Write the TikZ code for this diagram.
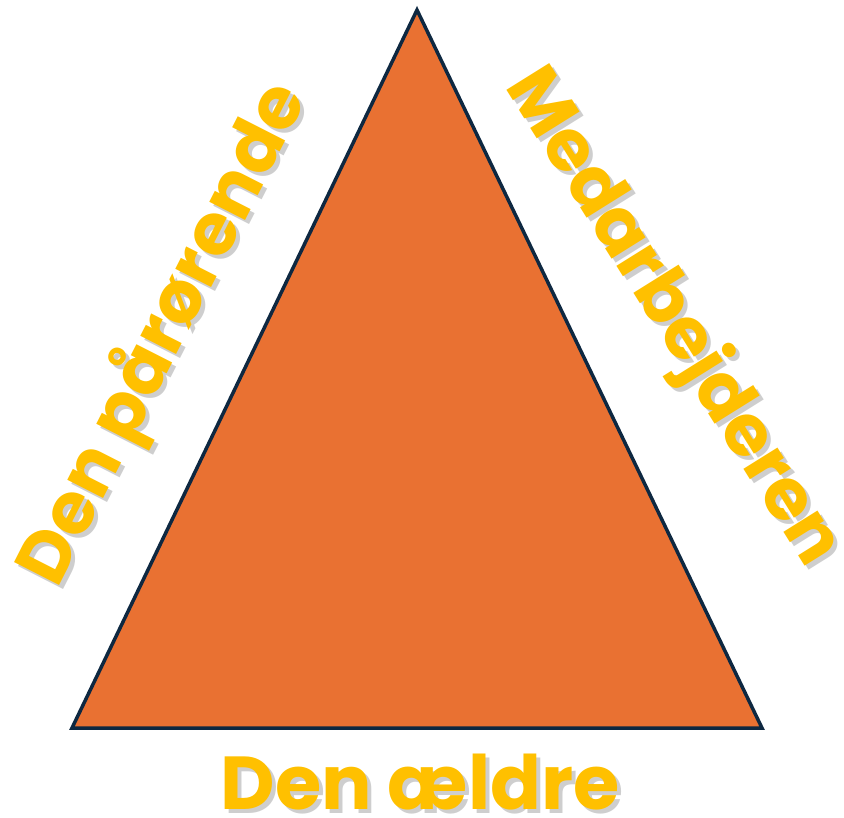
\documentclass[tikz,border=0pt]{standalone}
\usepackage{fontspec}
\setmainfont{Poppins}
\definecolor{triorange}{HTML}{E97132}
\definecolor{triedge}{HTML}{0E2841}
\definecolor{labelgold}{HTML}{FFC000}
\begin{document}
\begin{tikzpicture}[x=1pt,y=-1pt,
  lbl/.style={text=labelgold,font=\bfseries\fontsize{#1}{#1}\selectfont,inner sep=0pt},
  shd/.style={text=black!55,opacity=0.35,font=\bfseries\fontsize{#1}{#1}\selectfont,inner sep=0pt}]
\useasboundingbox (0,0) rectangle (844,818);
\coordinate (top) at (417,10);
\coordinate (bl) at (72,728);
\coordinate (br) at (762,728);
\draw[fill=triorange,draw=triedge,line width=3.5pt,line join=miter] (top) -- (br) -- (bl) -- cycle;
% shadows
\node[shd=75] (bottomshd) at (424,786) {Den ældre};
\node[shd=72,rotate=63] (leftshd) at (168,338) {Den pårørende};
\node[shd=72,rotate=-58] (rightshd) at (676,322) {Medarbejderen};
% labels
\node[lbl=75] (bottom) at (420,782) {Den ældre};
\node[lbl=72,rotate=63] (left) at (164,334) {Den pårørende};
\node[lbl=72,rotate=-58] (right) at (672,318) {Medarbejderen};
\end{tikzpicture}
\end{document}
